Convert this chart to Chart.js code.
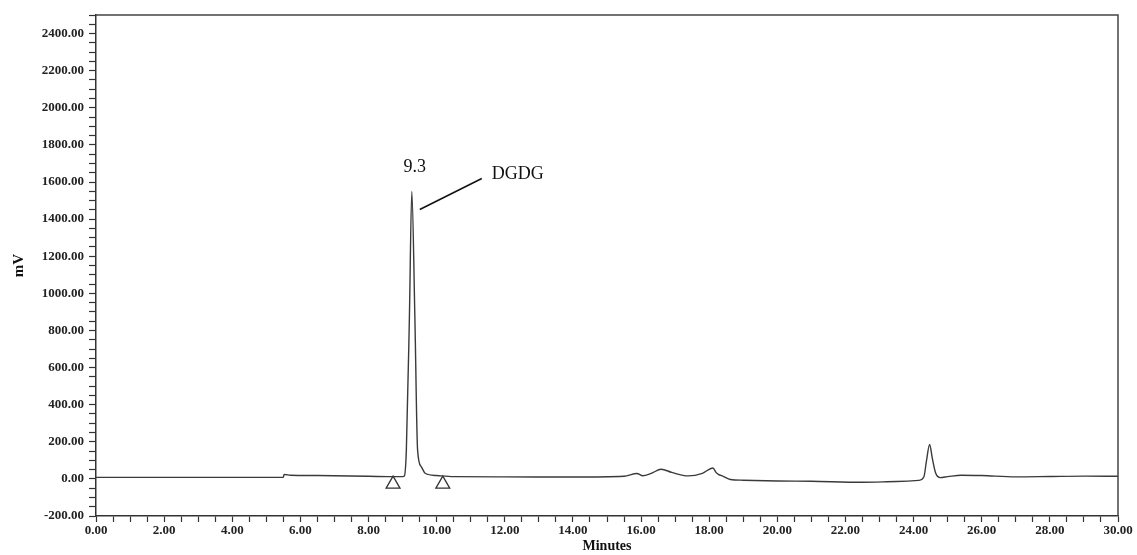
<!DOCTYPE html>
<html>
<head>
<meta charset="utf-8">
<script src="https://cdn.jsdelivr.net/npm/chart.js@4/dist/chart.umd.min.js"></script>
<style>
  html, body { margin: 0; padding: 0; background: #fff; }
  #wrap { width: 1137px; height: 555px; }
</style>
</head>
<body>
<div id="wrap"><canvas id="chart" width="1137" height="555"></canvas></div>
<script>
// === Dados do cromatograma ===
const minutes = [0, 2, 4, 5.5, 5.52, 5.6, 5.7, 6.5, 8.0, 8.8, 9.0, 9.05, 9.11, 9.2, 9.27, 9.36, 9.44, 9.55, 9.67, 10.0, 10.5, 12, 14, 15.5, 15.88, 16.05, 16.3, 16.59, 16.9, 17.38, 17.8, 18.11, 18.2, 18.27, 18.41, 18.62, 19, 20, 21, 22.5, 23.5, 24.15, 24.3, 24.38, 24.47, 24.55, 24.65, 24.78, 25.0, 25.4, 26, 27, 28, 29, 30];
const signalMv = [8, 8, 8, 9, 24, 22, 20, 18, 14, 12, 12, 15, 155, 874, 1549, 874, 155, 65, 29, 18, 12, 11, 10, 14, 29, 17, 30, 52, 35, 16, 30, 59, 35, 24, 14, -3, -7, -11, -13, -18, -14, -8, 10, 100, 186, 110, 30, 7, 12, 20, 18, 11, 13, 15, 14];

// marcadores de integração (triângulos)
const markerMinutes = [8.72, 10.18];
const markerMv = [-28, -28];

// rótulos do pico principal
const peakTime = 9.27;
const peakMv = 1549;
const peakRtLabel = "9.3";
const peakName = "DGDG";

const xMin = 0, xMax = 30, xStep = 0.5;
const yMin = -200, yMax = 2500, yStep = 50;

const traceData = minutes.map((t, i) => ({ x: t, y: signalMv[i] }));
const markerData = markerMinutes.map((t, i) => ({ x: t, y: markerMv[i] }));

const serif = "'Liberation Serif', 'Times New Roman', serif";

// desenha moldura e anotação do pico
const extrasPlugin = {
  id: 'extras',
  afterDraw(chart) {
    const { ctx, chartArea: a, scales } = chart;
    ctx.save();
    // borda superior e direita
    ctx.strokeStyle = '#444';
    ctx.lineWidth = 1.5;
    ctx.beginPath();
    ctx.moveTo(a.left, a.top);
    ctx.lineTo(a.right, a.top);
    ctx.lineTo(a.right, a.bottom);
    ctx.stroke();

    // anotação
    const px = scales.x.getPixelForValue(peakTime);
    const py = scales.y.getPixelForValue(peakMv);
    ctx.fillStyle = '#111';
    ctx.font = "18px " + serif;
    ctx.textAlign = 'center';
    ctx.textBaseline = 'middle';
    ctx.fillText(peakRtLabel, px + 3, py - 24);
    ctx.textAlign = 'left';
    ctx.fillText(peakName, px + 80, py - 17);
    ctx.strokeStyle = '#111';
    ctx.lineWidth = 1.6;
    ctx.beginPath();
    ctx.moveTo(px + 8, py + 18);
    ctx.lineTo(px + 70, py - 13);
    ctx.stroke();
    ctx.restore();
  }
};

new Chart(document.getElementById('chart').getContext('2d'), {
  type: 'line',
  data: {
    datasets: [
      {
        data: traceData,
        borderColor: '#3a3a3a',
        borderWidth: 1.4,
        pointRadius: 0,
        cubicInterpolationMode: 'monotone',
        fill: false
      },
      {
        data: markerData,
        showLine: false,
        pointStyle: 'triangle',
        pointRadius: 8,
        pointBorderWidth: 1.3,
        pointBorderColor: '#333',
        pointBackgroundColor: 'rgba(0,0,0,0)'
      }
    ]
  },
  options: {
    responsive: false,
    animation: false,
    layout: { padding: { left: 0, right: 19, top: 15, bottom: 0 } },
    plugins: { legend: { display: false }, tooltip: { enabled: false } },
    scales: {
      x: {
        type: 'linear',
        min: xMin, max: xMax,
        afterFit(s) { s.height = 39; },
        border: { color: '#333', width: 1.5 },
        grid: { drawOnChartArea: false, tickLength: 6, color: '#333', tickWidth: 1.2 },
        ticks: {
          stepSize: xStep,
          autoSkip: false,
          maxRotation: 0,
          padding: 1,
          color: '#222',
          font: { family: serif, size: 13, weight: 'bold' },
          callback: v => (Math.abs(v % 2) < 1e-9 ? v.toFixed(2) : '')
        },
        title: {
          display: true,
          text: 'Minutes',
          color: '#111',
          padding: { top: 0, bottom: 0 },
          font: { family: serif, size: 14, weight: 'bold' }
        }
      },
      y: {
        type: 'linear',
        min: yMin, max: yMax,
        afterFit(s) { s.width = 96; },
        border: { color: '#333', width: 1.5 },
        grid: { drawOnChartArea: false, tickLength: 7, color: '#333', tickWidth: 1.2 },
        ticks: {
          stepSize: yStep,
          autoSkip: false,
          padding: 5,
          color: '#222',
          font: { family: serif, size: 13, weight: 'bold' },
          callback: v => (Math.abs(v % 200) < 1e-9 ? v.toFixed(2) : '')
        },
        title: {
          display: true,
          text: 'mV',
          color: '#111',
          padding: { top: 10, bottom: 0 },
          font: { family: serif, size: 15, weight: 'bold' }
        }
      }
    }
  },
  plugins: [extrasPlugin]
});
</script>
</body>
</html>
